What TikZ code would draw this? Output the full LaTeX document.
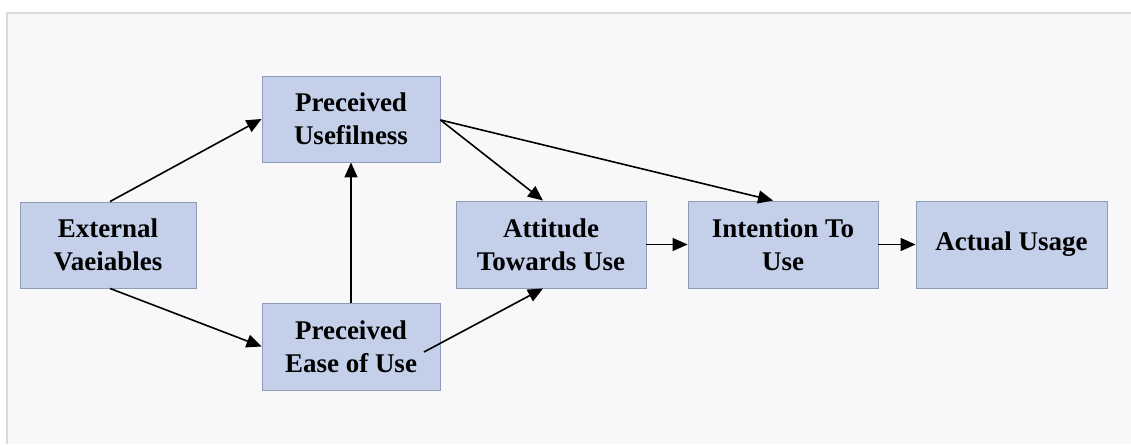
\documentclass[tikz,border=0pt]{standalone}
\usepackage{fontspec}
\setmainfont{Liberation Serif}
\usetikzlibrary{arrows.meta}
\definecolor{boxfill}{HTML}{C4CFEA}
\definecolor{boxline}{HTML}{8E9CB8}
\definecolor{panel}{HTML}{F8F8FA}
\definecolor{frame}{HTML}{DADADA}
\tikzset{
  stage/.style={draw=boxline, line width=0.9pt, fill=boxfill, align=center,
    font=\fontsize{27}{33}\selectfont\bfseries, inner sep=0pt},
  link/.style={line width=1.6pt, -{Triangle[length=15pt,width=13pt]}}
}
\begin{document}
\begin{tikzpicture}[x=1pt,y=-1pt]
\useasboundingbox (0,0) rectangle (1131,444);
\fill[white] (0,0) rectangle (1131,444);
\fill[panel] (7,13) rectangle (1131,444);
\draw[frame, line width=1.5pt] (7,444) -- (7,13) -- (1131,13);

\node[stage, minimum width=176pt, minimum height=86pt] (ext) at (108,245) {External\\Vaeiables};
\node[stage, minimum width=178pt, minimum height=86pt] (pu) at (351,119) {Preceived\\Usefilness};
\node[stage, minimum width=178pt, minimum height=87pt] (peu) at (351,346.5) {Preceived\\Ease of Use};
\node[stage, minimum width=190pt, minimum height=87pt] (att) at (551,244.5) {Attitude\\Towards Use};
\node[stage, minimum width=190pt, minimum height=87pt] (int) at (783,244.5) {Intention To\\Use};
\node[stage, minimum width=191pt, minimum height=87pt] (act) at (1011.5,244.5) {Actual Usage};

\coordinate (peuout) at (424,352);
\draw[link] (ext.north) ++(2,0) -- (pu.west);
\draw[link] (ext.south) ++(2,0) -- (peu.west);
\draw[link] (peu.north) -- (pu.south);
\draw[link] (peuout) -- ([xshift=-8pt]att.south);
\draw[link] ([yshift=-1pt]pu.east) -- ([xshift=-8pt]att.north);
\draw[link] ([yshift=-1pt]pu.east) -- ([xshift=-10pt]int.north);
\draw[link] (att.east) -- (int.west);
\draw[link] (int.east) -- (act.west);
\end{tikzpicture}
\end{document}
